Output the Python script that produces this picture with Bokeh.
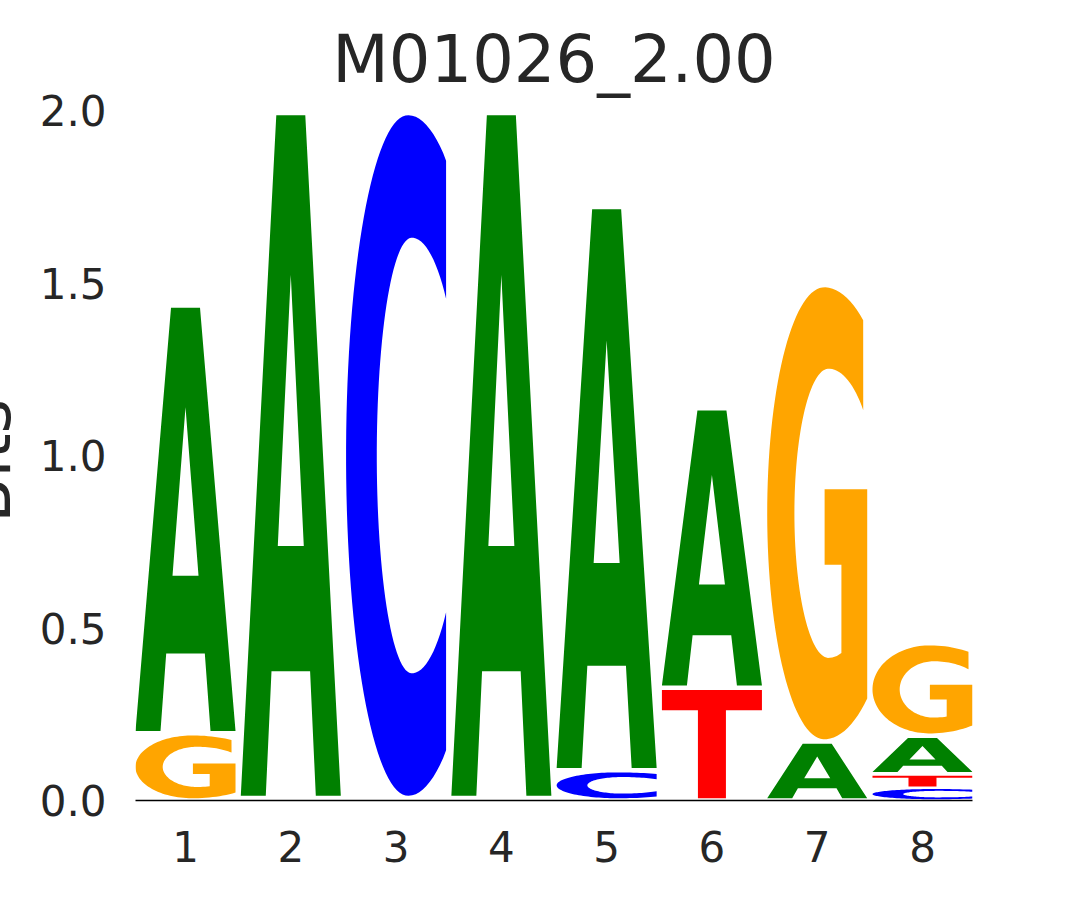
import numpy as np
from bokeh.plotting import figure
from bokeh.models import ColumnDataSource, FixedTicker, PrintfTickFormatter, Range1d
from bokeh.embed import file_html
from bokeh.resources import INLINE

# ---------------- data (information content, bits) ----------------
positions = [1, 2, 3, 4, 5, 6, 7, 8]
x_tick_labels = ["1", "2", "3", "4", "5", "6", "7", "8"]
y_ticks = [0.0, 0.5, 1.0, 1.5, 2.0]
bases = ["A", "C", "G", "T"]
A_bits = [1.240, 1.986, 0.000, 1.986, 1.632, 0.810, 0.171, 0.112]
C_bits = [0.000, 0.000, 1.986, 0.000, 0.088, 0.000, 0.000, 0.037]
G_bits = [0.195, 0.000, 0.000, 0.000, 0.000, 0.000, 1.323, 0.268]
T_bits = [0.000, 0.007, 0.007, 0.007, 0.000, 0.327, 0.000, 0.039]
colors = {"A": "#008000", "C": "#0000ff", "G": "#ffa500", "T": "#ff0000"}
title_text = "M01026_2.00"
y_label = "Bits"

# ---------------- letter outlines in a unit box ----------------
def arc(cx, cy, rxl, rxr, ry, t0, t1, n=90):
    t = np.radians(np.linspace(t0, t1, n))
    c, s = np.cos(t), np.sin(t)
    rx = np.where(c >= 0, rxr, rxl)
    return list(np.minimum(cx + rx * c, 1.0)), list(cy + ry * s)

def glyph_A():
    outer = ([0, 0.25, 0.307, 0.693, 0.75, 1.0, 0.645, 0.355],
             [0, 0, 0.183, 0.183, 0, 0, 1.0, 1.0])
    hole = ([0.37, 0.63, 0.5], [0.367, 0.367, 0.765])
    return [outer, hole]

def glyph_C():
    ox, oy = arc(0.62, 0.5, 0.62, 0.765, 0.5, 60, 300)
    ix, iy = arc(0.657, 0.5, 0.35, 0.494, 0.32, 314, 46)
    return [(ox + ix, oy + iy)]

def glyph_G():
    ox, oy = arc(0.57, 0.5, 0.57, 0.75, 0.5, 58.7, 305)
    bx = [1.0, 1.0, 0.574, 0.574, 0.742]
    by = [0.0904, 0.553, 0.553, 0.386, 0.386]
    ix, iy = arc(0.614, 0.5, 0.342, 0.494, 0.32, 285, 45.5)
    return [(ox + bx + ix, oy + by + iy)]

def glyph_T():
    return [([0.36, 0.64, 0.64, 1.0, 1.0, 0.0, 0.0, 0.36],
             [0.0, 0.0, 0.812, 0.812, 1.0, 1.0, 0.812, 0.812])]

glyphs = {"A": glyph_A(), "C": glyph_C(), "G": glyph_G(), "T": glyph_T()}

# ---------------- build stacked letters ----------------
bits = {"A": A_bits, "C": C_bits, "G": G_bits, "T": T_bits}
letter_w = 0.95
xs, ys, cols = [], [], []
for i, pos in enumerate(positions):
    stack = sorted([(bits[b][i], b) for b in bases])
    y0 = 0.0
    for h, b in stack:
        if h > 0.015:
            pad = min(0.0065, 0.1 * h)
            lo, hi = y0 + pad, y0 + h - pad
            rings_x, rings_y = [], []
            for rx, ry in glyphs[b]:
                rings_x.append([pos - letter_w / 2 + letter_w * u for u in rx])
                rings_y.append([lo + (hi - lo) * v for v in ry])
            xs.append([rings_x])
            ys.append([rings_y])
            cols.append(colors[b])
        y0 += h

src = ColumnDataSource(dict(xs=xs, ys=ys, color=cols))

FONT = "DejaVu Sans"
TXT = "#262626"
SHIFT = 85  # canvas is shifted left so the y label is cut by the page edge

p = figure(width=1150, height=884, output_backend="svg", toolbar_location=None,
           x_range=Range1d(0.525, 8.475), y_range=Range1d(0, 2.029),
           min_border_left=135 + SHIFT, min_border_right=93, min_border_top=100,
           min_border_bottom=84, title=title_text)
p.styles = {"position": "relative", "left": f"-{SHIFT}px"}
p.multi_polygons(xs="xs", ys="ys", fill_color="color", line_color=None, source=src)

p.title.align = "center"
p.title.text_font = FONT
p.title.text_font_size = "65.5px"
p.title.text_font_style = "normal"
p.title.text_color = TXT
p.title.standoff = 7

p.outline_line_color = None
p.xgrid.grid_line_color = None
p.ygrid.grid_line_color = None
p.background_fill_color = "white"
p.border_fill_color = "white"

xa = p.xaxis[0]
xa.ticker = FixedTicker(ticks=positions)
xa.major_label_overrides = {pos: lab for pos, lab in zip(positions, x_tick_labels)}
xa.axis_line_color = "black"
xa.axis_line_width = 1.3
xa.major_tick_line_color = None
xa.minor_tick_line_color = None
xa.major_tick_out = 0
xa.major_tick_in = 0
xa.major_label_standoff = 30
xa.major_label_text_font = FONT
xa.major_label_text_font_size = "42px"
xa.major_label_text_color = TXT

ya = p.yaxis[0]
ya.ticker = FixedTicker(ticks=y_ticks)
ya.formatter = PrintfTickFormatter(format="%.1f")
ya.axis_line_color = None
ya.major_tick_line_color = None
ya.minor_tick_line_color = None
ya.major_tick_out = 0
ya.major_tick_in = 0
ya.major_label_standoff = 29
ya.major_label_text_font = FONT
ya.major_label_text_font_size = "42px"
ya.major_label_text_color = TXT
ya.axis_label = y_label + "\u00a0"
ya.axis_label_text_font = FONT
ya.axis_label_text_font_size = "66px"
ya.axis_label_text_font_style = "normal"
ya.axis_label_text_color = TXT
ya.axis_label_standoff = 11

open("out.html", "w").write(file_html(p, INLINE))
